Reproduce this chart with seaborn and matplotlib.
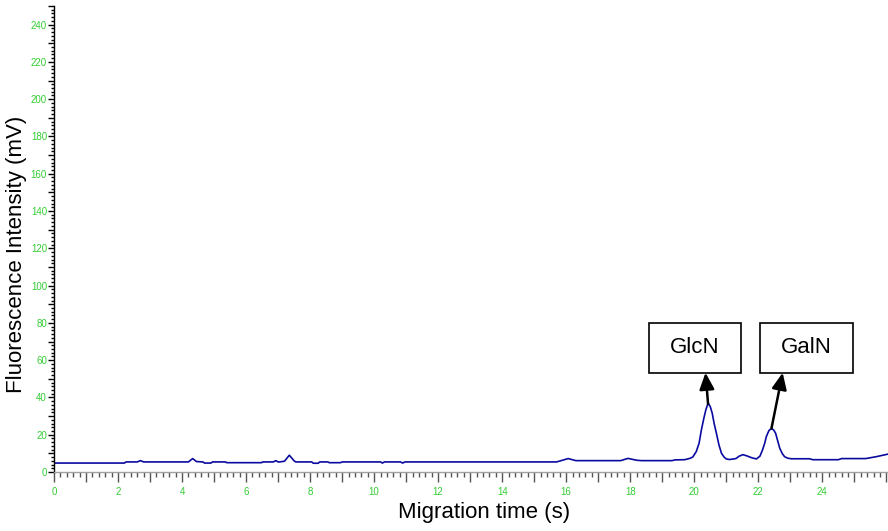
import matplotlib
matplotlib.use("Agg")
import matplotlib.pyplot as plt
from matplotlib.patches import Rectangle
from matplotlib.ticker import MultipleLocator, FuncFormatter
import seaborn as sns
import pandas as pd

# ---- data ----
time_s = [0, 2.2, 2.25, 2.6, 2.7, 2.8, 4.2, 4.33, 4.45, 4.65, 4.7, 4.9, 4.95, 5.35, 5.4,
          6.48, 6.52, 6.85, 6.93, 7.0, 7.05, 7.2, 7.35, 7.5, 7.55, 8.05, 8.1, 8.25, 8.3,
          8.55, 8.6, 8.95, 9.0, 10.2, 10.26, 10.32, 10.82, 10.89, 10.96, 15.7, 15.8,
          16.06, 16.3, 16.45, 17.7, 17.93, 18.2, 18.35, 19.3, 19.4, 19.7, 19.86, 19.95,
          20.06, 20.15, 20.22, 20.3, 20.36, 20.41, 20.45, 20.5, 20.56, 20.62, 20.69, 20.77,
          20.85, 20.93, 21.0, 21.1, 21.3, 21.4, 21.52, 21.65, 21.8, 21.94, 22.05, 22.13,
          22.2, 22.25, 22.33, 22.41, 22.48, 22.54, 22.6, 22.67, 22.75, 22.82, 22.92, 23.03,
          23.6, 23.7, 24.5, 24.6, 25.35, 25.68, 26.05]
intensity_mv = [4.8, 4.8, 5.4, 5.4, 6.1, 5.4, 5.4, 7.2, 5.6, 5.4, 4.8, 4.8, 5.4, 5.4, 5.0,
                5.0, 5.4, 5.4, 6.1, 5.4, 5.4, 5.8, 9.0, 6.0, 5.4, 5.4, 4.7, 4.7, 5.4,
                5.4, 5.0, 5.0, 5.4, 5.4, 4.8, 5.4, 5.4, 4.8, 5.4, 5.4, 5.9,
                7.2, 6.1, 6.1, 6.1, 7.3, 6.3, 6.1, 6.1, 6.5, 6.6, 7.3, 8.0,
                10.9, 15.5, 22.5, 29.0, 33.3, 36.0, 36.5, 35.0, 31.5, 26.0, 20.8, 14.5,
                10.0, 8.0, 7.0, 6.7, 7.2, 8.5, 9.3, 8.6, 7.6, 7.0, 8.5, 11.8,
                15.5, 19.0, 22.2, 23.4, 22.5, 20.8, 17.0, 12.7, 9.8, 8.2, 7.4, 7.1,
                7.1, 6.6, 6.6, 7.2, 7.2, 8.2, 9.6]
peak_names = ["GlcN", "GalN"]
peak_times = [20.43, 22.41]
peak_heights = [36.5, 23.4]
arrow_tips_x = [20.35, 22.76]
label_centers_x = [20.02, 23.51]
label_center_y = 66.7

x_ticks = [0, 2, 4, 6, 8, 10, 12, 14, 16, 18, 20, 22, 24]
y_ticks = [0, 20, 40, 60, 80, 100, 120, 140, 160, 180, 200, 220, 240]

df = pd.DataFrame({"t": time_s, "f": intensity_mv})

sns.set_style("ticks")
plt.rcParams["font.family"] = ["Liberation Sans Narrow", "Liberation Sans", "DejaVu Sans"]
plt.rcParams["text.color"] = "black"
plt.rcParams["axes.labelcolor"] = "black"

fig = plt.figure(figsize=(8.88, 5.31), dpi=100)
ax = fig.add_axes([54 / 888, 59 / 531, 834 / 888, 466 / 531])

sns.lineplot(data=df, x="t", y="f", ax=ax, color="#0a0aa0", linewidth=1.2,
             sort=False, estimator=None)

ax.set_xlim(0, 26.05)
ax.set_ylim(0, 250)

for s in ["top", "right"]:
    ax.spines[s].set_visible(False)
ax.spines["left"].set_color("black")
ax.spines["left"].set_linewidth(1.0)
ax.spines["bottom"].set_color("#a0a0a0")
ax.spines["bottom"].set_linewidth(1.0)

ax.xaxis.set_major_locator(MultipleLocator(1))
ax.xaxis.set_minor_locator(MultipleLocator(0.2))
ax.xaxis.set_major_formatter(FuncFormatter(lambda v, p: f"{int(round(v))}" if int(round(v)) in x_ticks else ""))
ax.yaxis.set_major_locator(MultipleLocator(10))
ax.yaxis.set_minor_locator(MultipleLocator(2))
ax.yaxis.set_major_formatter(FuncFormatter(lambda v, p: f"{int(round(v))}" if int(round(v)) in y_ticks else ""))

green = "#33cc33"
ax.tick_params(axis="x", which="major", direction="out", length=7.5, width=1.0,
               color="#555555", labelsize=7, labelcolor=green, pad=3)
ax.tick_params(axis="x", which="minor", direction="out", length=3.8, width=1.0, color="#555555")
ax.tick_params(axis="y", which="major", direction="out", length=4.0, width=1.0,
               color="black", labelsize=7, labelcolor=green, pad=1)
ax.tick_params(axis="y", which="minor", direction="out", length=2.3, width=1.0, color="black")

ax.set_xlabel("Migration time (s)", fontsize=16, va="center", color="black")
ax.xaxis.set_label_coords(0.5156, -0.086)
ax.set_ylabel("Fluorescence Intensity (mV)", fontsize=16, va="center", color="black")
ax.yaxis.set_label_coords(-0.0444, 0.466)

# annotation boxes with arrows
box_w = 2.89
box_h = 26.9
for name, pt, ph, tx, cx in zip(peak_names, peak_times, peak_heights, arrow_tips_x, label_centers_x):
    ax.add_patch(Rectangle((cx - box_w / 2, label_center_y - box_h / 2), box_w, box_h,
                           facecolor="white", edgecolor="black", linewidth=1.2, zorder=5))
    ax.text(cx, label_center_y, name, ha="center", va="center", fontsize=16,
            color="black", zorder=6)
    ax.annotate("", xy=(tx, label_center_y - box_h / 2), xytext=(pt, ph),
                arrowprops=dict(arrowstyle="-|>,head_length=1.0,head_width=0.45",
                                color="black", lw=1.8, shrinkA=0, shrinkB=0),
                zorder=6)

fig.savefig("out.png", dpi=100)
